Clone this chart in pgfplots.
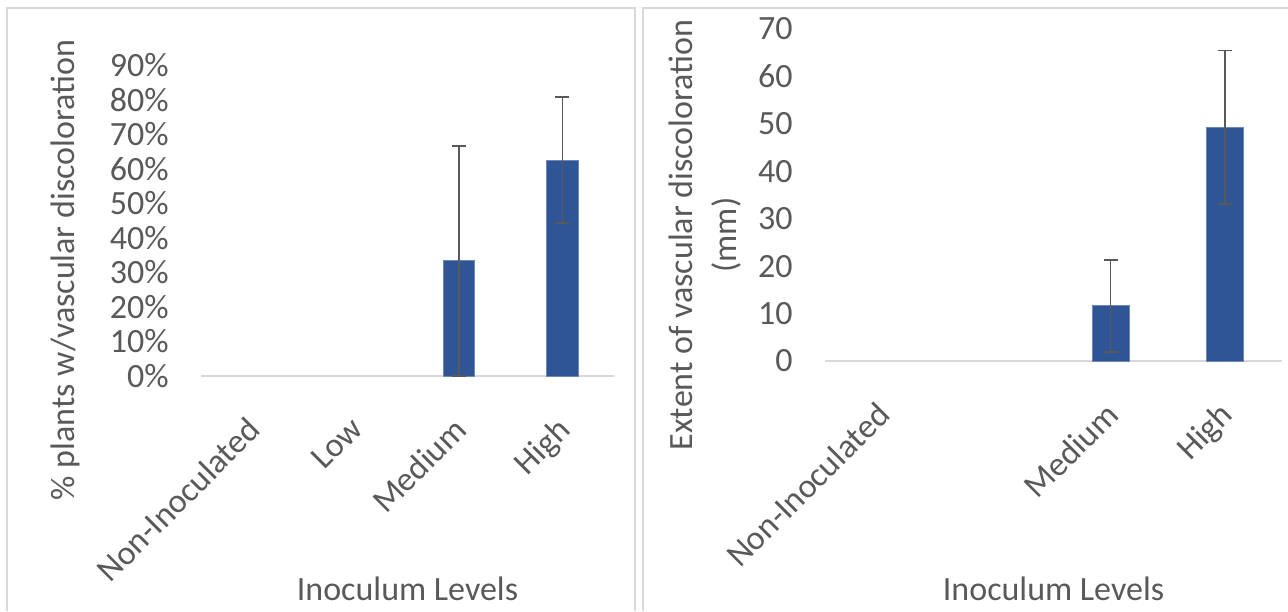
\documentclass[border=0pt]{standalone}
\usepackage{pgfplots}
\pgfplotsset{compat=1.18}
\usepackage{fontspec}
\setmainfont{Carlito}
\definecolor{barblue}{HTML}{2F5597}
\definecolor{txtgray}{HTML}{595959}
\definecolor{errgray}{HTML}{595959}
\definecolor{framegray}{HTML}{D9D9D9}
\definecolor{axisgray}{HTML}{D9D9D9}
\pgfplotsset{
  excelbar/.style={
    scale only axis,
    axis x line*=bottom, axis y line*=left,
    x axis line style={draw=axisgray, line width=1pt},
    y axis line style={draw=none},
    major tick length=0pt,
    tick style={draw=none},
    xmin=-0.5, xmax=3.5, ymin=0,
    xtick={0,1,2,3},
    clip=false,
    tick label style={font=\fontsize{17}{22}\selectfont, text=txtgray},
    label style={font=\fontsize{17}{22}\selectfont, text=txtgray},
    yticklabel style={anchor=east, inner sep=0pt, xshift=-16pt},
    xticklabel style={inner sep=0pt, xshift=-3.5pt, yshift=-19.5pt, rotate=45, anchor=north east},
  },
  excelplot/.style={
    ybar, bar shift=0pt, fill=barblue, draw=barblue!70!white, line width=0.5pt,
    error bars/.cd, y dir=both, y explicit,
    error bar style={errgray, line width=0.8pt},
    error mark options={rotate=90, mark size=3.5pt, errgray, line width=0.8pt},
  },
}
\begin{document}
\begin{tikzpicture}
\useasboundingbox (0,0) rectangle (644pt,305.5pt);
% panel frames
\draw[framegray, line width=1pt] (3.5pt,0pt) -- (3.5pt,301.5pt) -- (317.5pt,301.5pt) -- (317.5pt,0pt);
\draw[framegray, line width=1pt] (321.5pt,0pt) -- (321.5pt,301.5pt) -- (644pt,301.5pt);
% left chart
\begin{axis}[excelbar,
  at={(100.5pt,117.5pt)}, anchor=south west,
  width=206.5pt, height=155.5pt,
  ymax=90,
  ytick={0,10,20,30,40,50,60,70,80,90},
  yticklabels={0\%,10\%,20\%,30\%,40\%,50\%,60\%,70\%,80\%,90\%},
  xticklabels={Non-Inoculated,Low,Medium,High},
  xlabel={Inoculum Levels},
  ylabel={\% plants w/vascular discoloration},
  xlabel style={at={(axis description cs:0.5,-0.685)}, anchor=center},
  ylabel style={at={(axis description cs:-0.329,0.341)}, anchor=center, rotate=0},
]
\addplot[bar width=15.75pt, excelplot] coordinates {(2,33.3) +- (0,33.3) (3,62.5) +- (0,18.2)};
\end{axis}
% right chart
\begin{axis}[excelbar,
  at={(412.5pt,125pt)}, anchor=south west,
  width=228.5pt, height=166pt,
  ymax=70,
  ytick={0,10,20,30,40,50,60,70},
  yticklabels={0,10,20,30,40,50,60,70},
  xticklabels={Non-Inoculated,{},Medium,High},
  xlabel={Inoculum Levels},
  ylabel={Extent of vascular discoloration\\(mm)},
  xlabel style={at={(axis description cs:0.5,-0.687)}, anchor=center},
  ylabel style={at={(axis description cs:-0.2626,0.3795)}, anchor=center, align=center},
]
\addplot[bar width=18.5pt, excelplot] coordinates {(2,11.6) +- (0,9.7) (3,49.3) +- (0,16.2)};
\end{axis}
\end{tikzpicture}
\end{document}
